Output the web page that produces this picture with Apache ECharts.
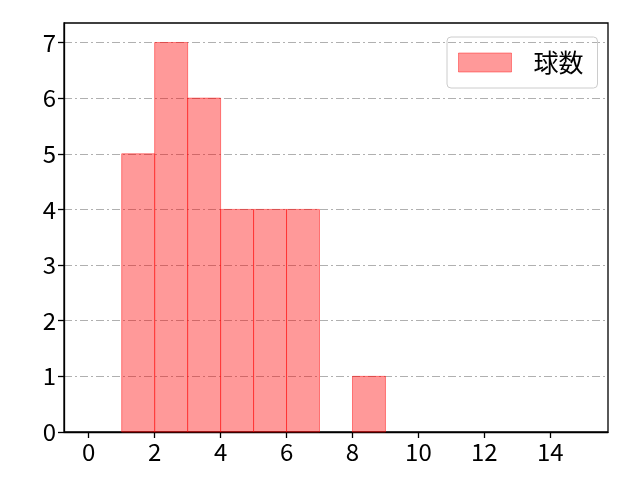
<!DOCTYPE html>
<html>
<head>
<meta charset="utf-8">
<script src="https://cdn.jsdelivr.net/npm/echarts@6/dist/echarts.min.js"></script>
<style>
  html, body { margin: 0; padding: 0; background: #fff; }
  #chart { width: 640px; height: 480px; }
</style>
</head>
<body>
<div id="chart"></div>
<script>
// ヒストグラムのビン（左端・右端）と度数
const binStart = [1, 2, 3, 4, 5, 6, 8];
const binEnd = [2, 3, 4, 5, 6, 7, 9];
const counts = [5, 7, 6, 4, 4, 4, 1];
const xTicks = [0, 2, 4, 6, 8, 10, 12, 14];
const yTicks = [0, 1, 2, 3, 4, 5, 6, 7];
const seriesName = "球数";

const font = "'Noto Sans CJK JP', 'Noto Sans', sans-serif";
const chart = echarts.init(document.getElementById("chart"));

const data = counts.map((c, i) => [binStart[i], binEnd[i], c]);

chart.setOption({
  animation: false,
  grid: {
    left: 64, right: 32, top: 23, bottom: 48,
    show: true, borderColor: "#000", borderWidth: 1.3,
    backgroundColor: "transparent"
  },
  legend: {
    left: 447, top: 37,
    padding: [13, 14, 13, 11],
    itemWidth: 53, itemHeight: 19,
    icon: "rect",
    borderColor: "#cccccc", borderWidth: 1, borderRadius: 4,
    textStyle: { fontFamily: font, fontSize: 25, color: "#000", padding: [0, 0, 0, 17] },
    data: [{ name: seriesName, itemStyle: { color: "rgba(255,0,0,0.4)", borderColor: "rgba(255,0,0,0.4)", borderWidth: 1 } }]
  },
  xAxis: {
    type: "value",
    min: -0.75, max: 15.75,
    axisLine: { show: true, onZero: false, lineStyle: { color: "#000", width: 1.3 } },
    axisTick: { show: true, length: 6, lineStyle: { color: "#000", width: 1.3 }, customValues: xTicks },
    axisLabel: { fontFamily: font, fontSize: 24, color: "#000", margin: 8, customValues: xTicks },
    splitLine: { show: false }
  },
  yAxis: {
    type: "value",
    min: 0, max: 7.35,
    axisLine: { show: true, onZero: false, lineStyle: { color: "#000", width: 1.3 } },
    axisTick: { show: true, length: 6, lineStyle: { color: "#000", width: 1.3 }, customValues: yTicks },
    axisLabel: { fontFamily: font, fontSize: 24, color: "#000", margin: 8, customValues: yTicks },
    splitLine: { show: true, lineStyle: { color: "#b0b0b0", width: 1, type: [8, 3, 2, 3] } }
  },
  series: [{
    name: seriesName,
    type: "custom",
    data: data,
    encode: { x: [0, 1], y: 2 },
    renderItem: function (params, api) {
      const p0 = api.coord([api.value(0), api.value(2)]);
      const p1 = api.coord([api.value(1), 0]);
      return {
        type: "rect",
        shape: { x: p0[0], y: p0[1], width: p1[0] - p0[0], height: p1[1] - p0[1] },
        style: { fill: "rgba(255,0,0,0.4)", stroke: "rgba(255,0,0,0.45)", lineWidth: 1 }
      };
    }
  }]
});
</script>
</body>
</html>
